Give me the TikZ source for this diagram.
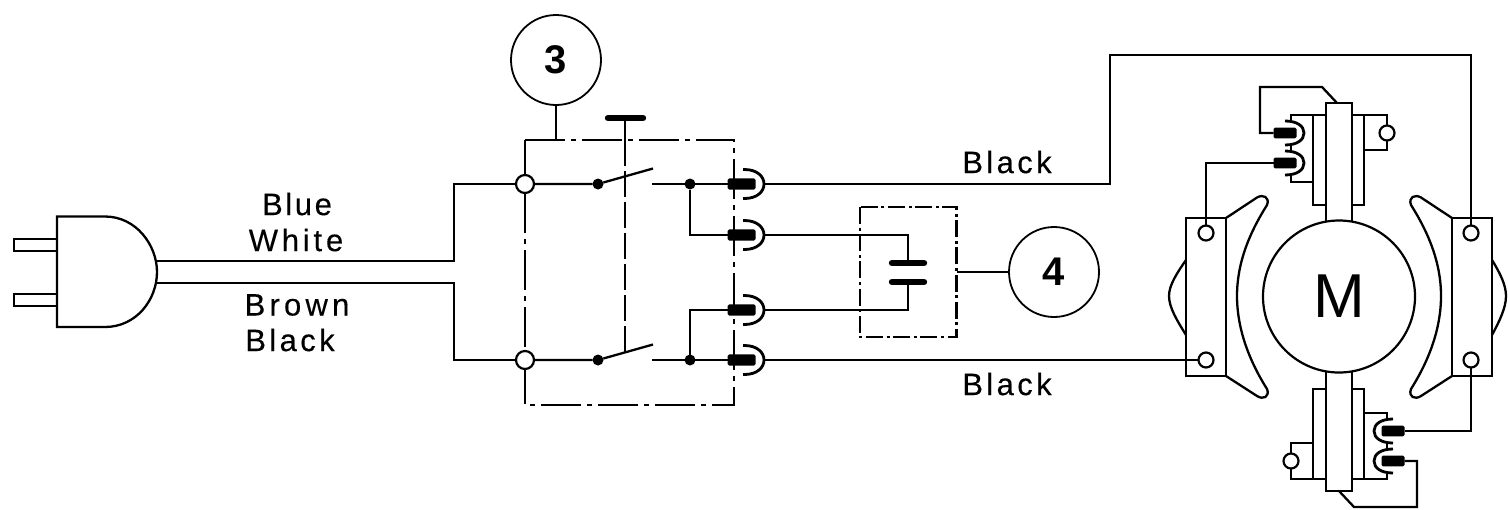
\documentclass[tikz,border=0pt]{standalone}
\usepackage{fontspec}
\setmainfont{Liberation Sans}
\newfontfamily\lblfont[FakeBold=0.25]{Liberation Sans}
\begin{document}
\begin{tikzpicture}[x=0.5pt,y=-0.5pt,line width=1.15pt,line join=miter,
  wire/.style={draw=black,line width=1.15pt},
  term/.style={circle,draw=black,fill=white,line width=1.1pt,minimum size=9pt,inner sep=0pt,outer sep=0pt},
  smallterm/.style={circle,draw=black,fill=white,line width=1.1pt,minimum size=7.5pt,inner sep=0pt,outer sep=0pt},
  junction/.style={circle,fill=black,minimum size=5.5pt,inner sep=0pt,outer sep=0pt},
  callout/.style={circle,draw=black,fill=white,line width=0.9pt,minimum size=45pt,inner sep=0pt,outer sep=0pt,font=\fontsize{20}{20}\selectfont\bfseries},
  blackplug/.style={fill=black,rounded corners=0.8pt,minimum width=14pt,minimum height=5.6pt,inner sep=0pt,outer sep=0pt},
  smallplug/.style={fill=black,rounded corners=0.8pt,minimum width=11.5pt,minimum height=5.4pt,inner sep=0pt,outer sep=0pt},
  dashdot/.style={draw=black,line width=1.1pt,dash pattern=on 20pt off 3pt on 2.5pt off 3pt},
  capbox/.style={draw=black,line width=1.1pt,dash pattern=on 8.5pt off 1.8pt on 1.5pt off 1.8pt},
  linkdash/.style={draw=black,line width=1.1pt,dash pattern=on 13pt off 2.5pt},
  thickbar/.style={draw=black,line width=3.2pt,line cap=round},
  lbl/.style={inner sep=0pt,font=\fontsize{15.5}{15.5}\lblfont,text=black},
  recR/.pic={
    \node[blackplug] (-plug) at (0,0) {};
    \draw[line width=1.4pt] (1.5,-14.5) -- (3,-14.5) .. controls (15,-14.5) and (22.5,-8) .. (22.5,0)
      .. controls (22.5,8) and (15,14.5) .. (3,14.5) -- (1.5,14.5);
    \coordinate (-tip) at (22.5,0);
  },
  recS/.pic={
    \node[smallplug] (-plug) at (0,0) {};
    \draw[line width=1.4pt] (0,-12) .. controls (12,-12) and (19,-7) .. (19,0)
      .. controls (19,7) and (12,12) .. (0,12);
  }]
\useasboundingbox (0,0) rectangle (1508,509);

% ---------- plug
\draw[wire,fill=white] (14,239) rectangle (57,251);
\draw[wire,fill=white] (14,294) rectangle (57,306);
\draw[wire,fill=white] (57,216.5) -- (105,216.5) .. controls (136,216.5) and (157,245) .. (157,272)
  .. controls (157,300) and (136,327) .. (105,327) -- (57,327) -- cycle;
\coordinate (plugA) at (156,261);
\coordinate (plugB) at (156,283);

% ---------- switch box
\coordinate (bTL) at (525,140);
\coordinate (bTR) at (734,140);
\coordinate (bBR) at (734,405);
\coordinate (bBL) at (525,405);
\draw[dashdot] (bTL) -- (bTR) -- (bBR) -- (bBL) -- cycle;

\node[term] (tA) at (525,184) {};
\node[term] (tB) at (525,360) {};
\node[junction] (dA) at (598,184) {};
\node[junction] (dB) at (598,360) {};
\node[junction] (jA) at (690,184) {};
\node[junction] (jB) at (690,360) {};
\coordinate (swA) at (653,168.5);
\coordinate (swB) at (653,344.5);
\coordinate (fixA) at (652,184);
\coordinate (fixB) at (652,360);

\pic (r1) at (741.5,184) {recR};
\pic (r2) at (741.5,235) {recR};
\pic (r3) at (741.5,310) {recR};
\pic (r4) at (741.5,360) {recR};

\draw[wire] (plugA) -- (454,261) -- (454,184) -- (tA);
\draw[wire] (plugB) -- (454,283) -- (454,360) -- (tB);
\draw[wire] (tA) -- (dA) -- (swA);
\draw[wire] (tB) -- (dB) -- (swB);
\draw[wire] (fixA) -- (r1-plug);
\draw[wire] (fixB) -- (r4-plug);
\draw[wire] (jA) -- (690,235) -- (r2-plug);
\draw[wire] (jB) -- (690,310) -- (r3-plug);

% ---------- switch handle
\coordinate (hL) at (608,118);
\coordinate (hR) at (643,118);
\coordinate (hM) at (625,118);
\coordinate (hT) at (625,140);
\coordinate (hB) at (625,352);
\draw[thickbar] (hL) -- (hR);
\draw[wire] (hM) -- (hT);
\draw[linkdash] (hT) -- (hB);

% ---------- callouts
\node[callout] (c3) at (556,60) {3};
\node[callout] (c4) at (1054,272) {4};
\draw[wire] (c3) -- (556,140);

% ---------- capacitor
\coordinate (cTL) at (860,207);
\coordinate (cBR) at (956.5,337);
\draw[capbox] (cTL) rectangle (cBR);
\coordinate (pT) at (908,263);
\coordinate (pB) at (908,282);
\draw[thickbar] (892,263) -- (924,263);
\draw[thickbar] (892,282) -- (924,282);
\draw[wire] (r2-tip) -- (908,235) -- (pT);
\draw[wire] (r3-tip) -- (908,310) -- (pB);
\coordinate (cE) at (957,272);
\draw[line width=0.9pt] (cE) -- (c4);

% ---------- motor
% outer lobes
\draw[wire] (1186,260) .. controls (1177,273) and (1169,285) .. (1169,296) .. controls (1169,308) and (1178,322) .. (1186,335);
\draw[wire] (1492,260) .. controls (1500,273) and (1506,285) .. (1506,296) .. controls (1506,308) and (1499,322) .. (1492,335);
% pole shoes
\draw[wire] (1226,218) -- (1257,197.5) .. controls (1263,194) and (1270,197) .. (1267,205)
  .. controls (1250,232) and (1237,262) .. (1237,296)
  .. controls (1237,330) and (1250,362) .. (1267,389)
  .. controls (1270,397) and (1263,400) .. (1257,396) -- (1226,376);
\draw[wire] (1452,218) -- (1421,197.5) .. controls (1415,194) and (1408,197) .. (1411,205)
  .. controls (1428,232) and (1441,262) .. (1441,296)
  .. controls (1441,330) and (1428,362) .. (1411,389)
  .. controls (1408,397) and (1415,400) .. (1421,396) -- (1452,376);
% field blocks
\draw[wire] (1186,218) rectangle (1226,376);
\draw[wire] (1452,218) rectangle (1492,376);
\node[smallterm] (f1) at (1206,233) {};
\node[smallterm] (f2) at (1206,360) {};
\node[smallterm] (f3) at (1471,233) {};
\node[smallterm] (f4) at (1471,360) {};

% top brush holder
\draw[wire] (1313,114.7) rectangle (1364,204.7);
\draw[wire,fill=white] (1326,103) rectangle (1352,222);
\pic (t1) at (1285,133) {recS};
\pic (t2) at (1285,163) {recS};
\draw[wire] (1313,114.7) -- (1291,114.7) -- (1291,121);
\draw[wire] (1291,145) -- (1291,151);
\draw[wire] (1291,175) -- (1291,182) -- (1313,182);
\node[smallterm] (bt) at (1387,133) {};
\draw[wire] (1364,114.7) -- (1387,114.7) -- (bt) -- (1387,150) -- (1364,150);

% bottom brush holder
\draw[wire] (1313,389) rectangle (1364,479);
\draw[wire,fill=white] (1326,371) rectangle (1352,491);
\pic[xscale=-1] (u1) at (1393,431) {recS};
\pic[xscale=-1] (u2) at (1393,461) {recS};
\draw[wire] (1364,413) -- (1387,413) -- (1387,419);
\draw[wire] (1387,443) -- (1387,449);
\draw[wire] (1387,473) -- (1387,479) -- (1364,479);
\node[smallterm] (bb) at (1291,461) {};
\draw[wire] (1313,443) -- (1291,443) -- (bb) -- (1291,479) -- (1313,479);

% armature
\node[circle,draw=black,fill=white,line width=1.1pt,minimum size=76pt,inner sep=0pt,outer sep=0pt,font=\fontsize{31}{31}\selectfont] (M) at (1339,296.5) {M};

% motor wiring
\draw[wire] (r1-tip) -- (1110,184) -- (1110,55) -- (1471,55) -- (f3);
\draw[wire] (r4-tip) -- (f2);
\draw[wire] (t1-plug) -- (1260,133) -- (1260,87) -- (1322,87) -- (1337,103);
\draw[wire] (t2-plug) -- (1206,163) -- (f1);
\draw[wire] (u1-plug) -- (1471,431) -- (f4);
\draw[wire] (u2-plug) -- (1417,461) -- (1417,507) -- (1354,507) -- (1339,491);

% ---------- labels
\node[lbl] (lBlue) at (297,204) {B\kern1.3pt l\kern1.3pt u\kern1.3pt e};
\node[lbl] (lWhite) at (296,240) {W\kern1.9pt h\kern1.9pt i\kern1.9pt t\kern1.9pt e};
\node[lbl] (lBrown) at (297,305) {B\kern2.1pt r\kern2.1pt o\kern2.1pt w\kern2.1pt n};
\node[lbl] (lBlack) at (290,340) {B\kern1.7pt l\kern1.7pt a\kern1.7pt c\kern1.7pt k};
\node[lbl] (lB1) at (1007,162) {B\kern1.7pt l\kern1.7pt a\kern1.7pt c\kern1.7pt k};
\node[lbl] (lB2) at (1007,384) {B\kern1.7pt l\kern1.7pt a\kern1.7pt c\kern1.7pt k};
\end{tikzpicture}
\end{document}
